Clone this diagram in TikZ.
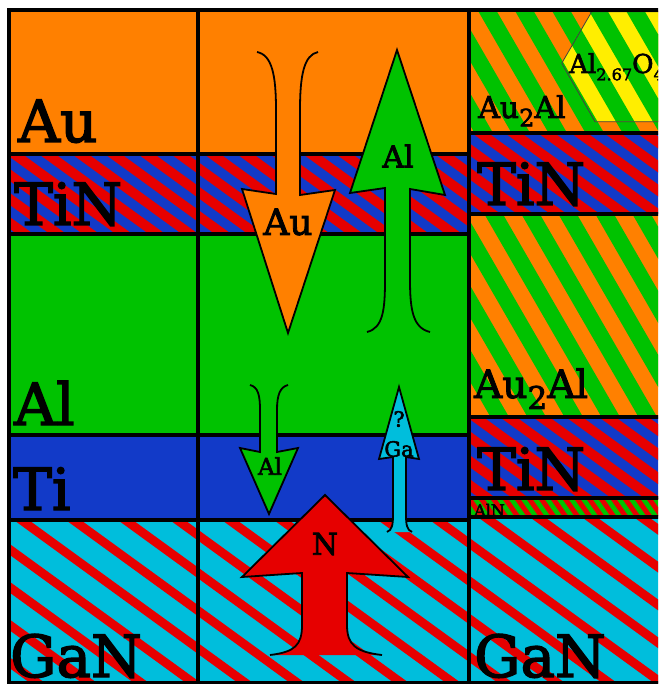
\documentclass[tikz,border=0pt]{standalone}
\usepackage{fontspec}
\setmainfont{DejaVu Serif}
\newfontfamily\heavy[FakeBold=2.5]{DejaVu Serif}
\usetikzlibrary{calc}
\definecolor{auorange}{RGB}{255,128,0}
\definecolor{algreen}{RGB}{0,194,0}
\definecolor{tiblue}{RGB}{18,58,200}
\definecolor{nred}{RGB}{230,0,0}
\definecolor{gacyan}{RGB}{0,190,220}
\definecolor{oxyellow}{RGB}{255,238,0}
% region, background, stripe colour, angle, period, stripe width, offset
\newcommand{\stripecell}[7]{%
  \fill[#2] #1;
  \begin{scope}
    \clip #1;
    \foreach \k in {-40,...,40}
      \draw[#3,line width={#6*sin(#4)}] ($(\k*#5+#7,0)+(#4:-1300)$) -- ($(\k*#5+#7,0)+(#4:1300)$);
  \end{scope}}
\newcommand{\dn}[2][.8]{\raisebox{-.28em}{\scalebox{#1}{#2}}}
\begin{document}
\begin{tikzpicture}[x=1pt,y=-1pt,
  grid/.style={line width=4pt,line cap=rect},
  lay/.style={anchor=base west,inner sep=0pt,font=\heavy\fontsize{58}{60}\selectfont},
  flow/.style={draw=black,line width=1.8pt,line join=miter},
  tag/.style={inner sep=0pt,font=\heavy\fontsize{30}{32}\selectfont}]
\useasboundingbox (0,0) rectangle (658,684);
\fill[white] (0,0) rectangle (658,684);
\clip (0,0) rectangle (658,684);

% left and middle stack
\fill[auorange] (9,10) rectangle (469,154.5);
\stripecell{(9,154.5) rectangle (469,234)}{tiblue}{nred}{36}{33}{16.5}{0}
\fill[algreen] (9,234) rectangle (469,435);
\fill[tiblue] (9,435) rectangle (469,520);
\stripecell{(9,520) rectangle (469,683)}{gacyan}{nred}{36}{52}{15}{33.5}

% annealed stack
\stripecell{(469,10) rectangle (670,133)}{auorange}{algreen}{60}{37}{18.5}{0}
\stripecell{(469,133) rectangle (670,214)}{tiblue}{nred}{36}{33}{16.5}{0}
\stripecell{(469,214) rectangle (670,417)}{auorange}{algreen}{60}{37}{18.5}{0}
\stripecell{(469,417) rectangle (670,498)}{tiblue}{nred}{36}{33}{16.5}{0}
\stripecell{(469,498) rectangle (670,517)}{algreen}{nred}{55}{12}{6}{0}
\stripecell{(469,517) rectangle (670,683)}{gacyan}{nred}{36}{52}{15}{33.5}
\stripecell{(591.7,11.7) -- (561.7,63.3) -- (595,121.7) -- (700,121.7) -- (730,63) -- (700,11.7) -- cycle}{oxyellow}{algreen}{60}{37}{18.5}{0}
\draw[black!75,line width=0.8pt] (591.7,11.7) -- (561.7,63.3) -- (595,121.7) -- (700,121.7) -- (730,63) -- (700,11.7) -- cycle;

\draw[grid] (9,10) -- (670,10) (9,683) -- (670,683) (9,10) -- (9,683)
  (198,10) -- (198,683) (469,10) -- (469,683);
\foreach \y in {154.5,234,435,520}
  \draw[grid] (9,\y) -- (469,\y);
\foreach \y in {133,214,417,498,517}
  \draw[grid] (469,\y) -- (670,\y);

\node[lay] (au) at (18,142) {Au};
\node[lay] (tin) at (14,225) {TiN};
\node[lay] (al) at (14,425) {Al};
\node[lay] (ti) at (13,510) {Ti};
\node[lay] (gan) at (10,677) {GaN};
\node[lay] (tinup) at (477,205) {TiN};
\node[lay] (tinlo) at (477,490) {TiN};
\node[lay] (ganr) at (474,677) {GaN};
\node[lay,font=\heavy\fontsize{30}{32}\selectfont] (auala) at (478,118) {Au\dn{2}Al};
\node[lay,font=\heavy\fontsize{39}{40}\selectfont] (aualb) at (474,398) {Au\dn{2}Al};
\node[lay,font=\heavy\fontsize{16}{18}\selectfont] (aln) at (474,516) {AlN};
\node[lay,font=\heavy\fontsize{26}{28}\selectfont] (oxide) at (569,73) {Al\dn[.62]{2.67}O\dn[.62]{4}};

% diffusion arrows
\filldraw[flow,fill=auorange] (257,52) .. controls (272,55) and (276,75) .. (276,110) -- (276,194) -- (242,189)
  -- (288,333) -- (335,190) -- (300,195) -- (300,110) .. controls (300,75) and (304,55) .. (318,52);
\filldraw[flow,fill=algreen] (367,332) .. controls (383,328) and (385,310) .. (385,280) -- (385,188) -- (350,193)
  -- (397,50) -- (445,195) -- (410,189) -- (410,280) .. controls (410,310) and (413,328) .. (430,332);
\filldraw[flow,fill=algreen] (250,385) .. controls (258,387) and (260,395) .. (260,410) -- (260,452) -- (240,448)
  -- (269,514) -- (298,448) -- (277,452) -- (277,410) .. controls (277,395) and (280,387) .. (288,385);
\filldraw[flow,fill=gacyan] (387,532) .. controls (392,530) and (393,525) .. (393,515) -- (393,457) -- (379,459)
  -- (399,387) -- (419,459) -- (406,457) -- (406,515) .. controls (406,525) and (407,530) .. (412,532);
\filldraw[flow,fill=nred] (270,655) .. controls (295,652) and (302,645) .. (302,625) -- (302,573) -- (242,577)
  -- (325,495) -- (408,577) -- (347,573) -- (347,625) .. controls (347,645) and (356,652) .. (382,655);

\node[tag,font=\heavy\fontsize{36}{38}\selectfont] (auarr) at (288,222) {Au};
\node[tag] (alarr) at (398,156) {Al};
\node[tag,font=\heavy\fontsize{23}{25}\selectfont] (alsmall) at (270,466) {Al};
\node[tag,font=\heavy\fontsize{21}{23}\selectfont] (gaq) at (399,419) {?};
\node[tag,font=\heavy\fontsize{21}{23}\selectfont] (gaarr) at (399,449) {Ga};
\node[tag] (narr) at (325,544) {N};
\end{tikzpicture}
\end{document}
